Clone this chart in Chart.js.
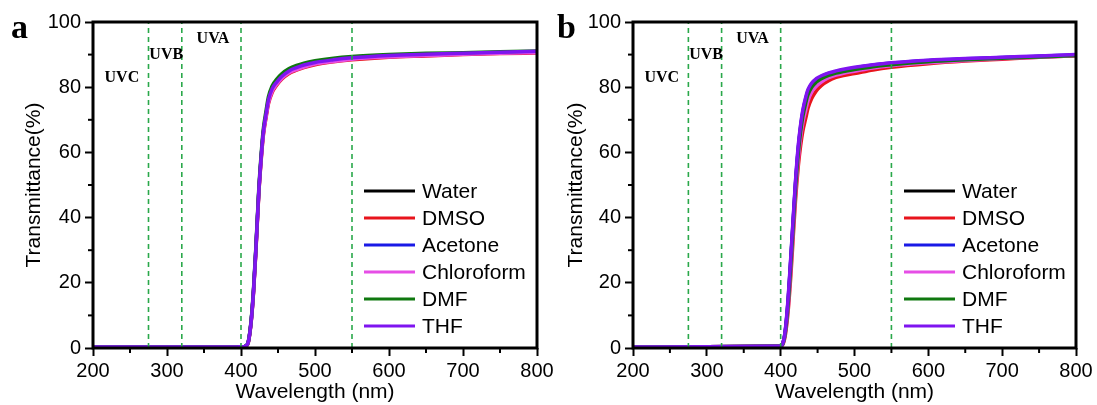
<!DOCTYPE html>
<html>
<head>
    <title>Transmittance spectra</title>
    <script src="https://cdn.jsdelivr.net/npm/chart.js@4.4.1/dist/chart.umd.min.js"></script>
    <style>
        body {
            margin: 0;
            background: #fff;
        }
        .wrap {
            position: relative;
            width: 1097px;
            height: 405px;
        }
        canvas {
            position: absolute;
            top: 0;
        }
    </style>
</head>
<body>
    <div class="wrap">
        <canvas id="chartA" width="570" height="405" style="left:0"></canvas>
        <canvas id="chartB" width="547" height="405" style="left:550px"></canvas>
    </div>
    <script>
        // wavelength grid (nm)
        const wavelengths = [200, 300, 395, 400, 403, 406, 410, 414, 417, 420, 424, 427, 430, 434, 437, 442, 448, 455, 465, 475, 485, 500, 525, 550, 600, 650, 700, 750, 800];

        const seriesNames = ["Water", "DMSO", "Acetone", "Chloroform", "DMF", "THF"];
        const seriesColors = ["#000000", "#e8141c", "#1a1ae6", "#e64ee6", "#0f780f", "#7f14f0"];

        // panel a
        const waterA = [0.2, 0.2, 0.3, 0.3, 0.4, 0.5, 1.9, 8.8, 17.6, 29.6, 47.5, 57.5, 65.5, 71.5, 75.5, 79, 81, 82.9, 84.6, 85.6, 86.4, 87.3, 88.1, 88.7, 89.4, 89.8, 90.2, 90.5, 90.8];
        const dmsoA = [0.3, 0.3, 0.3, 0.3, 0.4, 0.5, 1.8, 8.5, 17.2, 29, 47, 56.8, 64.8, 70.8, 74.8, 78.3, 80.5, 82.4, 84.2, 85.2, 86, 86.9, 87.8, 88.4, 89.2, 89.6, 90, 90.3, 90.5];
        const acetoneA = [0.3, 0.3, 0.3, 0.4, 0.4, 0.6, 2, 8.9, 17.9, 29.9, 47.8, 57.8, 65.8, 71.8, 75.8, 79.3, 81.3, 83.1, 84.8, 85.8, 86.6, 87.5, 88.3, 88.9, 89.6, 90, 90.3, 90.6, 90.9];
        const chloroformA = [0.2, 0.2, 0.3, 0.3, 0.4, 0.5, 1.9, 8.7, 17.4, 29.3, 47.2, 57.1, 65.1, 71.2, 75.2, 78.7, 80.8, 82.7, 84.4, 85.4, 86.2, 87.1, 87.9, 88.6, 89.3, 89.7, 90.1, 90.4, 90.6];
        const dmfA = [0.3, 0.3, 0.3, 0.4, 0.4, 0.6, 2.1, 9.3, 18.5, 30.6, 48.7, 58.8, 66.9, 73, 77, 80.4, 82.4, 84.1, 85.7, 86.7, 87.4, 88.1, 88.9, 89.4, 90, 90.4, 90.6, 90.9, 91.1];
        const thfA = [0.3, 0.3, 0.3, 0.4, 0.4, 0.6, 2, 9, 18, 30, 48, 58, 66, 72, 76, 79.5, 81.5, 83.3, 85, 86, 86.8, 87.6, 88.4, 89, 89.7, 90.1, 90.4, 90.7, 91];

        // panel b
        const waterB = [0.3, 0.4, 0.5, 0.7, 1.4, 4.6, 14, 27.8, 38.8, 49.8, 61.2, 67.4, 72, 76.1, 78.5, 80.6, 82, 83, 84, 84.6, 85.1, 85.7, 86.6, 87.2, 88, 88.6, 89, 89.4, 89.8];
        const dmsoB = [0.3, 0.4, 0.5, 0.6, 1.1, 3.5, 11, 23, 34, 45, 56, 62, 66.5, 70.5, 73.5, 76.5, 78.8, 80.5, 82, 83, 83.6, 84.2, 85.3, 86.1, 87.2, 88, 88.6, 89.2, 89.6];
        const acetoneB = [0.3, 0.4, 0.5, 0.7, 1.4, 4.8, 14.5, 28.4, 39.4, 50.4, 61.8, 68, 72.5, 76.6, 78.9, 81, 82.3, 83.3, 84.2, 84.8, 85.3, 85.9, 86.8, 87.4, 88.2, 88.7, 89.1, 89.5, 89.9];
        const chloroformB = [0.3, 0.4, 0.5, 0.6, 1.2, 4, 12, 25, 36, 47, 58.2, 64.5, 69, 73, 75.8, 78.5, 80.2, 81.6, 82.9, 83.7, 84.3, 84.9, 85.9, 86.6, 87.5, 88.2, 88.8, 89.2, 89.7];
        const dmfB = [0.3, 0.4, 0.5, 0.7, 1.3, 4.3, 13, 26.5, 37.5, 48.5, 60, 66.3, 71, 75.2, 77.7, 80, 81.5, 82.6, 83.6, 84.3, 84.8, 85.4, 86.3, 86.9, 87.8, 88.4, 88.9, 89.3, 89.7];
        const thfB = [0.3, 0.4, 0.5, 0.7, 1.5, 5, 15, 29, 40, 51, 62.5, 68.5, 73, 77, 79.3, 81.3, 82.6, 83.5, 84.4, 85, 85.5, 86.1, 86.9, 87.5, 88.3, 88.8, 89.2, 89.6, 90];

        // UV region boundaries and labels
        const uvBounds = [275, 320, 400, 550];
        const uvLabels = ["UVC", "UVB", "UVA"];
        const uvLabelX = [239, 299, 362];
        const uvLabelY = [82.8, 89.9, 94.8];

        const xTicks = [200, 300, 400, 500, 600, 700, 800];
        const yTicks = [0, 20, 40, 60, 80, 100];

        const sans = 'Arial, "Liberation Sans", sans-serif';
        const serif = '"Times New Roman", "Liberation Serif", serif';

        function makeDatasets(values) {
            const sets = values.map(function (vals, i) {
                return {
                    label: seriesNames[i],
                    data: wavelengths.map(function (w, k) { return { x: w, y: vals[k] }; }),
                    borderColor: seriesColors[i],
                    borderWidth: 3.5,
                    pointRadius: 0,
                    cubicInterpolationMode: "monotone",
                    order: 10 - i
                };
            });
            uvBounds.forEach(function (b) {
                sets.push({
                    label: "",
                    data: [{ x: b, y: 0 }, { x: b, y: 100 }],
                    borderColor: "#2aa84a",
                    borderWidth: 1.6,
                    borderDash: [5, 4],
                    pointRadius: 0,
                    order: 0
                });
            });
            return sets;
        }

        // frame, minor ticks, UV labels, legend, panel letter
        const decorPlugin = {
            id: "decor",
            afterDraw: function (chart) {
                const ctx = chart.ctx;
                const area = chart.chartArea;
                const xs = chart.scales.x;
                const ys = chart.scales.y;
                const opts = chart.options.plugins.decor;
                ctx.save();

                // minor ticks
                ctx.strokeStyle = "#000";
                ctx.lineWidth = 2;
                for (let v = 10; v < 100; v += 20) {
                    const py = ys.getPixelForValue(v);
                    ctx.beginPath();
                    ctx.moveTo(area.left - 5, py);
                    ctx.lineTo(area.left, py);
                    ctx.stroke();
                }
                for (let v = 250; v < 800; v += 100) {
                    const px = xs.getPixelForValue(v);
                    ctx.beginPath();
                    ctx.moveTo(px, area.bottom);
                    ctx.lineTo(px, area.bottom + 5);
                    ctx.stroke();
                }

                // frame
                ctx.lineWidth = 3;
                ctx.strokeRect(area.left, area.top, area.right - area.left, area.bottom - area.top);

                // UV labels
                ctx.fillStyle = "#000";
                ctx.font = "bold 16px " + serif;
                ctx.textAlign = "center";
                ctx.textBaseline = "middle";
                uvLabels.forEach(function (t, i) {
                    ctx.fillText(t, xs.getPixelForValue(uvLabelX[i]), ys.getPixelForValue(uvLabelY[i]));
                });

                // legend
                ctx.font = "21px " + sans;
                ctx.textAlign = "left";
                ctx.textBaseline = "middle";
                seriesNames.forEach(function (name, i) {
                    const y = area.top + 169 + i * 27;
                    ctx.strokeStyle = seriesColors[i];
                    ctx.lineWidth = 3;
                    ctx.beginPath();
                    ctx.moveTo(area.left + 271, y);
                    ctx.lineTo(area.left + 322, y);
                    ctx.stroke();
                    ctx.fillStyle = "#000";
                    ctx.fillText(name, area.left + 329, y + 1);
                });

                // panel letter
                ctx.font = "bold 34px " + serif;
                ctx.textBaseline = "alphabetic";
                ctx.fillText(opts.letter, opts.letterX, 38);
                ctx.restore();
            }
        };

        function makeChart(id, values, cfg) {
            new Chart(document.getElementById(id), {
                type: "line",
                data: { datasets: makeDatasets(values) },
                plugins: [decorPlugin],
                options: {
                    responsive: false,
                    animation: false,
                    layout: { padding: { left: 0, top: 22, right: cfg.padRight, bottom: 0 } },
                    plugins: {
                        legend: { display: false },
                        tooltip: { enabled: false },
                        decor: { letter: cfg.letter, letterX: cfg.letterX }
                    },
                    scales: {
                        x: {
                            type: "linear",
                            min: 200,
                            max: 800,
                            afterBuildTicks: function (s) { s.ticks = xTicks.map(function (v) { return { value: v }; }); },
                            afterFit: function (s) { s.height = 57; s.paddingLeft = 0; s.paddingRight = 0; },
                            grid: { drawOnChartArea: false, tickLength: 8, tickWidth: 2, tickColor: "#000" },
                            border: { display: false },
                            ticks: { color: "#000", font: { family: sans, size: 20 }, padding: 3, maxRotation: 0 },
                            title: {
                                display: true,
                                text: "Wavelength (nm)",
                                color: "#000",
                                font: { family: sans, size: 21 },
                                padding: { top: 0, bottom: 0 }
                            }
                        },
                        y: {
                            min: 0,
                            max: 100,
                            afterBuildTicks: function (s) { s.ticks = yTicks.map(function (v) { return { value: v }; }); },
                            afterFit: function (s) { s.width = cfg.yWidth; s.paddingTop = 0; s.paddingBottom = 0; },
                            grid: { drawOnChartArea: false, tickLength: 8, tickWidth: 2, tickColor: "#000" },
                            border: { display: false },
                            ticks: { color: "#000", font: { family: sans, size: 20 }, padding: 4 },
                            title: {
                                display: true,
                                text: "Transmittance(%)",
                                color: "#000",
                                font: { family: sans, size: 21 },
                                padding: { top: cfg.titlePad, bottom: 0 }
                            }
                        }
                    }
                }
            });
        }

        makeChart("chartA", [waterA, dmsoA, acetoneA, chloroformA, dmfA, thfA],
            { padRight: 33, yWidth: 93, titlePad: 22, letter: "a", letterX: 11 });
        makeChart("chartB", [waterB, dmsoB, acetoneB, chloroformB, dmfB, thfB],
            { padRight: 21, yWidth: 83, titlePad: 14, letter: "b", letterX: 7 });
    </script>
</body>
</html>
